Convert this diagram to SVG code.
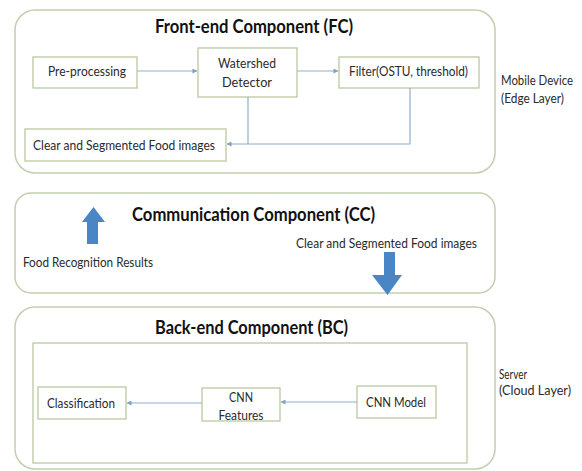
<svg xmlns="http://www.w3.org/2000/svg" width="582" height="471" viewBox="0 0 582 471">
<defs>
<style>
.comp{fill:#fff;stroke:#c3cfae;stroke-width:1.5}
.box{fill:#fff;stroke:#b9c9a3;stroke-width:1.3}
.t{font-family:Lato,"Liberation Sans",sans-serif;font-size:13px;fill:#2a2a2a}
.title{font-family:Lato,"Liberation Sans",sans-serif;font-size:19px;font-weight:bold;fill:#111}
.mid{text-anchor:middle}
.conn{fill:none;stroke:#8eb0d3;stroke-width:1.2}
.big{fill:#4a86c6}
</style>
<marker id="ah" viewBox="0 0 6 6" refX="5.5" refY="3" markerWidth="5" markerHeight="5" orient="auto" markerUnits="userSpaceOnUse">
<path d="M0,0 L6,3 L0,6 z" fill="#7fa3c8"/>
</marker>
</defs>
<rect width="582" height="471" fill="#fff"/>

<g id="fc">
<rect class="comp" x="15" y="10" width="480" height="163" rx="20"/>
<text class="title" x="155" y="33" textLength="198" lengthAdjust="spacingAndGlyphs">Front-end Component (FC)</text>
</g>
<g id="preprocessing">
<rect class="box" x="33" y="57" width="104" height="31"/>
<text class="t" x="48" y="76" textLength="78" lengthAdjust="spacingAndGlyphs">Pre-processing</text>
</g>
<g id="watershed">
<rect class="box" x="198" y="48" width="99" height="49"/>
<text class="t mid" x="247" y="68" textLength="58" lengthAdjust="spacingAndGlyphs">Watershed</text>
<text class="t mid" x="247" y="87" textLength="50" lengthAdjust="spacingAndGlyphs">Detector</text>
</g>
<g id="filter">
<rect class="box" x="339" y="57" width="140" height="31"/>
<text class="t" x="349" y="76" textLength="119" lengthAdjust="spacingAndGlyphs">Filter(OSTU, threshold)</text>
</g>
<g id="clear">
<rect class="box" x="25" y="129" width="201" height="32"/>
<text class="t" x="33" y="150" textLength="182" lengthAdjust="spacingAndGlyphs">Clear and Segmented Food images</text>
</g>
<g id="mobile">
<text class="t" x="501" y="85" textLength="72" lengthAdjust="spacingAndGlyphs">Mobile Device</text>
<text class="t" x="501" y="103" textLength="63" lengthAdjust="spacingAndGlyphs">(Edge Layer)</text>
</g>

<g id="cc">
<rect class="comp" x="15" y="193" width="480" height="100" rx="16"/>
<text class="title" x="132" y="221" textLength="243" lengthAdjust="spacingAndGlyphs">Communication Component (CC)</text>
<polygon class="big" points="93.5,207 105,222 98,222 98,244 87,244 87,222 82,222"/>
<text class="t" x="23" y="267" textLength="130" lengthAdjust="spacingAndGlyphs">Food Recognition Results</text>
<text class="t" x="296" y="248" textLength="181" lengthAdjust="spacingAndGlyphs">Clear and Segmented Food images</text>
<polygon class="big" points="384,252 395,252 395,275 402,275 387.5,295 372,275 384,275"/>
</g>

<g id="bc">
<rect class="comp" x="15" y="307" width="480" height="162" rx="20"/>
<text class="title" x="155" y="334" textLength="193" lengthAdjust="spacingAndGlyphs">Back-end Component (BC)</text>
<rect class="box" x="33" y="343" width="434" height="120" fill="none"/>
</g>
<g id="classification">
<rect class="box" x="38" y="387" width="88" height="32"/>
<text class="t" x="47" y="408" textLength="68" lengthAdjust="spacingAndGlyphs">Classification</text>
</g>
<g id="cnnfeatures">
<rect class="box" x="202" y="388" width="78" height="33"/>
<text class="t mid" x="241" y="402" textLength="24" lengthAdjust="spacingAndGlyphs">CNN</text>
<text class="t mid" x="241" y="420" textLength="45" lengthAdjust="spacingAndGlyphs">Features</text>
</g>
<g id="cnnmodel">
<rect class="box" x="357" y="386" width="79" height="32"/>
<text class="t" x="366" y="407" textLength="60" lengthAdjust="spacingAndGlyphs">CNN Model</text>
</g>
<g id="server">
<text class="t" x="499" y="379" textLength="28" lengthAdjust="spacingAndGlyphs">Server</text>
<text class="t" x="499" y="395" textLength="72" lengthAdjust="spacingAndGlyphs">(Cloud Layer)</text>
</g>

<g id="connectors">
<line class="conn" x1="137" y1="71" x2="197" y2="71" marker-end="url(#ah)"/>
<line class="conn" x1="297" y1="71" x2="338" y2="71" marker-end="url(#ah)"/>
<polyline class="conn" points="248,97 248,144"/>
<polyline class="conn" points="410,88 410,144 227,144" marker-end="url(#ah)"/>
<line class="conn" x1="202" y1="403" x2="127" y2="403" marker-end="url(#ah)"/>
<line class="conn" x1="357" y1="402" x2="281" y2="402" marker-end="url(#ah)"/>
</g>
</svg>
